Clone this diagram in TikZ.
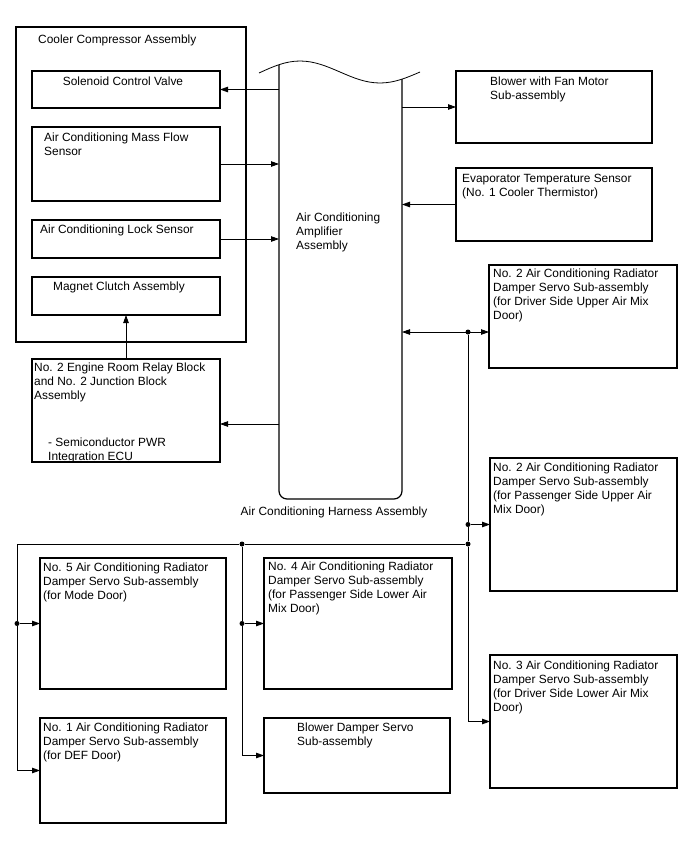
\documentclass[tikz,border=0pt]{standalone}
\usepackage{fontspec}
\setmainfont{Liberation Sans}
\usetikzlibrary{arrows.meta}

\begin{document}
\begin{tikzpicture}[x=1pt, y=-1pt,
  box/.style={draw, line width=1.2pt, anchor=north west, inner sep=0pt, outer sep=0pt},
  txt/.style={anchor=north west, inner sep=0pt, align=left, font=\fontsize{11.9}{14}\selectfont},
  wire/.style={line width=0.8pt},
  arr/.style={wire, -{Triangle[length=8pt,width=5.5pt]}},
  dbl/.style={wire, {Triangle[length=8pt,width=5.5pt]}-{Triangle[length=8pt,width=5.5pt]}},
  dot/.style={circle, fill, inner sep=0pt, minimum size=5pt}]

\useasboundingbox (0,0) rectangle (688,852);

% cooler compressor
\node[box, minimum width=230, minimum height=315] (cca) at (16,27) {};
\node[txt] at ([shift={(22,8)}]cca.north west) {Cooler Compressor Assembly};
\node[box, minimum width=188, minimum height=37] (sol) at (32,71) {};
\node[txt, anchor=north] at ([shift={(-3,6)}]sol.north) {Solenoid Control Valve};
\node[box, minimum width=188, minimum height=74] (mfs) at (32,127) {};
\node[txt] at ([shift={(12,6)}]mfs.north west) {Air Conditioning Mass Flow\\Sensor};
\node[box, minimum width=188, minimum height=38] (lock) at (32,220) {};
\node[txt] at ([shift={(8,5)}]lock.north west) {Air Conditioning Lock Sensor};
\node[box, minimum width=188, minimum height=38] (mag) at (32,277) {};
\node[txt] at ([shift={(21,5)}]mag.north west) {Magnet Clutch Assembly};

\node[box, minimum width=188, minimum height=103] (erb) at (32,359) {};
\node[txt] at ([shift={(2,4)}]erb.north west) {No. 2 Engine Room Relay Block\\and No. 2 Junction Block\\Assembly};
\node[txt] at ([shift={(16,79)}]erb.north west) {- Semiconductor PWR\\Integration ECU};

% amplifier
\node[anchor=south west, minimum width=123, minimum height=434, inner sep=0pt, outer sep=0pt] (amp) at (279,499) {};
\draw[line width=1.2pt, rounded corners=8] (amp.north west) -- (amp.south west) -- (amp.south east) -- ([yshift=-14pt]amp.north east);
\draw[line width=0.8pt] (259,73) sin (300,61) cos (340,72) sin (380,83) cos (420,72);
\node[txt] at (296,213) {Air Conditioning\\Amplifier\\Assembly};
\node[txt, anchor=center] (harness) at (334,512) {Air Conditioning Harness Assembly};

% right side
\node[box, minimum width=196, minimum height=72] (blow) at (456,71) {};
\node[txt] at ([shift={(34,6)}]blow.north west) {Blower with Fan Motor\\Sub-assembly};
\node[box, minimum width=196, minimum height=73] (ev) at (456,168) {};
\node[txt] at ([shift={(6,6)}]ev.north west) {Evaporator Temperature Sensor\\(No. 1 Cooler Thermistor)};
\node[box, minimum width=188, minimum height=103] (n2d) at (489,265) {};
\node[txt] at ([shift={(4,4)}]n2d.north west) {No. 2 Air Conditioning Radiator\\Damper Servo Sub-assembly\\(for Driver Side Upper Air Mix\\Door)};
\node[box, minimum width=187, minimum height=133] (n2p) at (490,458) {};
\node[txt] at ([shift={(3,5)}]n2p.north west) {No. 2 Air Conditioning Radiator\\Damper Servo Sub-assembly\\(for Passenger Side Upper Air\\Mix Door)};
\node[box, minimum width=187, minimum height=133] (n3) at (490,655) {};
\node[txt] at ([shift={(3,6)}]n3.north west) {No. 3 Air Conditioning Radiator\\Damper Servo Sub-assembly\\(for Driver Side Lower Air Mix\\Door)};

% bottom left
\node[box, minimum width=186, minimum height=131] (n5) at (40,558) {};
\node[txt] at ([shift={(3,5)}]n5.north west) {No. 5 Air Conditioning Radiator\\Damper Servo Sub-assembly\\(for Mode Door)};
\node[box, minimum width=186, minimum height=105] (n1) at (40,718) {};
\node[txt] at ([shift={(3,5)}]n1.north west) {No. 1 Air Conditioning Radiator\\Damper Servo Sub-assembly\\(for DEF Door)};
\node[box, minimum width=188, minimum height=131] (n4) at (264,558) {};
\node[txt] at ([shift={(4,4)}]n4.north west) {No. 4 Air Conditioning Radiator\\Damper Servo Sub-assembly\\(for Passenger Side Lower Air\\Mix Door)};
\node[box, minimum width=186, minimum height=75] (bds) at (264,718) {};
\node[txt] at ([shift={(33,5)}]bds.north west) {Blower Damper Servo\\Sub-assembly};

% junctions
\node[dot] (j1) at (468,332) {};
\node[dot] (j2) at (468,524.5) {};
\node[dot] (j3) at (468,544) {};
\node[dot] (j4) at (242,544) {};
\node[dot] (j5) at (17,623.5) {};
\node[dot] (j6) at (242,623.5) {};
\coordinate (c1) at (17,544);
\coordinate (erbin) at (220,424);

% wires
\draw[arr] (amp.west |- sol.east) -- (sol.east);
\draw[arr] (mfs.east) -- (amp.west |- mfs.east);
\draw[arr] (lock.east) -- (amp.west |- lock.east);
\draw[arr] (erb.north) -- (mag.south);
\draw[arr] (amp.west |- erbin) -- (erbin);
\draw[arr] (amp.east |- blow.west) -- (blow.west);
\draw[arr] (ev.west) -- (amp.east |- ev.west);
\draw[dbl] (amp.east |- j1) -- (n2d.west |- j1);
\draw[wire] (j1) -- (j2) -- (j3);
\draw[arr] (j3) |- (n3.west);
\draw[arr] (j2) -- (n2p.west);
\draw[wire] (j3) -- (j4) -- (c1) -- (j5);
\draw[arr] (j5) -- (n5.west);
\draw[arr] (j5) |- (n1.west);
\draw[wire] (j4) -- (j6);
\draw[arr] (j6) -- (n4.west);
\draw[arr] (j6) |- (bds.west);

\end{tikzpicture}
\end{document}
